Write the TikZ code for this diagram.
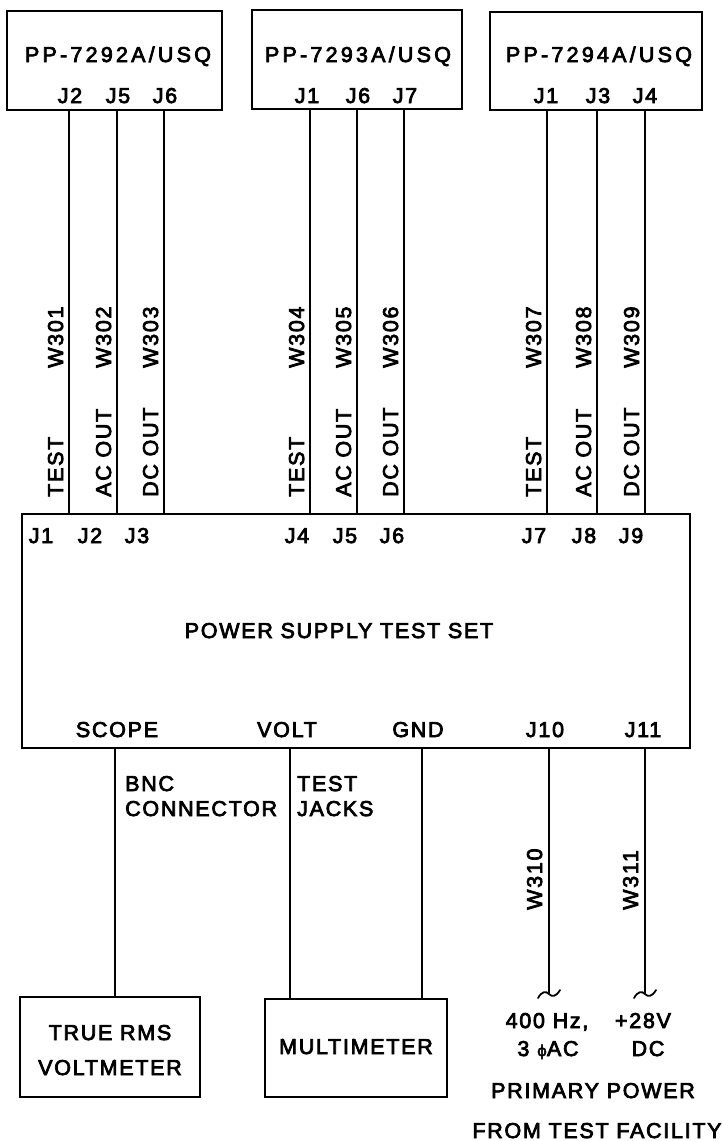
\documentclass[tikz,border=0pt]{standalone}
\usepackage{fontspec}
\newfontfamily\lblfont{Liberation Sans}[FakeBold=3.5, LetterSpace=8]
\newfontfamily\ppfont{Liberation Sans}[FakeBold=3.5, LetterSpace=15]
\newfontfamily\phifont{DejaVu Sans}[FakeBold=3]
\begin{document}
\begin{tikzpicture}[x=1pt,y=-1pt,
  box/.style={draw, line width=2.2pt, inner sep=0pt},
  wire/.style={line width=1.8pt},
  lab/.style={font=\fontsize{21.5}{25}\lblfont, inner sep=0pt, anchor=base},
  pplab/.style={font=\fontsize{21.5}{25}\ppfont, inner sep=0pt, anchor=base},
  llab/.style={lab, anchor=base west},
  vlab/.style={lab, rotate=90, anchor=base west}]
\useasboundingbox (0,0) rectangle (721,1141);

% upper units
\node[box, minimum width=215pt, minimum height=99pt] (u1) at (114.5,60.5) {};
\node[box, minimum width=210pt, minimum height=99pt] (u2) at (357,59.5) {};
\node[box, minimum width=212pt, minimum height=98pt] (u3) at (596,61) {};
\node[pplab] (u1t) at (118,62) {PP-7292A/USQ};
\node[pplab] (u2t) at (358,62) {PP-7293A/USQ};
\node[pplab] (u3t) at (599,62) {PP-7294A/USQ};

\node[lab] (u1j2) at (70,103) {J2};
\node[lab] (u1j5) at (118,103) {J5};
\node[lab] (u1j6) at (165,103) {J6};
\node[lab] (u2j1) at (307,103) {J1};
\node[lab] (u2j6) at (358,103) {J6};
\node[lab] (u2j7) at (405,103) {J7};
\node[lab] (u3j1) at (546,103) {J1};
\node[lab] (u3j3) at (598,103) {J3};
\node[lab] (u3j4) at (645,103) {J4};

% main test set
\node[box, minimum width=668pt, minimum height=234pt] (main) at (356,631) {};
\node[lab] (title) at (339,638) {POWER SUPPLY TEST SET};

\node[lab] (mj1) at (41,543) {J1};
\node[lab] (mj2) at (90,543) {J2};
\node[lab] (mj3) at (137,543) {J3};
\node[lab] (mj4) at (297,543) {J4};
\node[lab] (mj5) at (345,543) {J5};
\node[lab] (mj6) at (392,543) {J6};
\node[lab] (mj7) at (534,543) {J7};
\node[lab] (mj8) at (584,543) {J8};
\node[lab] (mj9) at (631,543) {J9};

\node[lab] (scope) at (117,737) {SCOPE};
\node[lab] (volt) at (287,737) {VOLT};
\node[lab] (gnd) at (418,737) {GND};
\node[lab] (j10) at (545,737) {J10};
\node[lab] (j11) at (643,737) {J11};

% pins on upper units
\coordinate (p1) at (69,110);
\coordinate (p2) at (117,110);
\coordinate (p3) at (164,110);
\coordinate (p4) at (310,109);
\coordinate (p5) at (357,109);
\coordinate (p6) at (404,109);
\coordinate (p7) at (547,110);
\coordinate (p8) at (597,110);
\coordinate (p9) at (645,110);
\foreach \p in {p1,p2,p3,p4,p5,p6,p7,p8,p9}
  \draw[wire] (\p) -- (\p |- main.north);

% cable labels
\node[vlab] (w301) at (63,368) {W301};
\node[vlab] (w302) at (111,368) {W302};
\node[vlab] (w303) at (158,368) {W303};
\node[vlab] (w304) at (304,368) {W304};
\node[vlab] (w305) at (351,368) {W305};
\node[vlab] (w306) at (398,368) {W306};
\node[vlab] (w307) at (541,368) {W307};
\node[vlab] (w308) at (591,368) {W308};
\node[vlab] (w309) at (639,368) {W309};

\node[vlab] (t1) at (63,497) {TEST};
\node[vlab] (a1) at (111,497) {AC OUT};
\node[vlab] (d1) at (158,497) {DC OUT};
\node[vlab] (t2) at (304,497) {TEST};
\node[vlab] (a2) at (351,497) {AC OUT};
\node[vlab] (d2) at (398,497) {DC OUT};
\node[vlab] (t3) at (541,497) {TEST};
\node[vlab] (a3) at (591,497) {AC OUT};
\node[vlab] (d3) at (639,497) {DC OUT};

% lower instruments
\node[box, minimum width=180pt, minimum height=100pt] (rms) at (110,1047) {};
\node[lab] (rms1) at (110,1040) {TRUE RMS};
\node[lab] (rms2) at (110,1075) {VOLTMETER};
\node[box, minimum width=182pt, minimum height=98pt] (mm) at (356,1048) {};
\node[lab] (mmt) at (356,1054) {MULTIMETER};

\coordinate (sc) at (115,748);
\coordinate (vo) at (290,748);
\coordinate (gn) at (422,748);
\draw[wire] (sc) -- (sc |- rms.north);
\draw[wire] (vo) -- (vo |- mm.north);
\draw[wire] (gn) -- (gn |- mm.north);

\node[llab] (bnc1) at (125,791) {BNC};
\node[llab] (bnc2) at (125,816) {CONNECTOR};
\node[llab] (tj1) at (297,791) {TEST};
\node[llab] (tj2) at (297,816) {JACKS};

% primary power
\coordinate (q10) at (549,748);
\coordinate (q11) at (645,748);
\coordinate (e10) at (549,994);
\coordinate (e11) at (645,994);
\draw[wire] (q10) -- (e10);
\draw[wire] (q11) -- (e11);
\foreach \e in {e10,e11}
  \draw[line width=1.8pt, line cap=round] ([shift={(-11,4)}]\e) .. controls ([shift={(-7,-3)}]\e) and ([shift={(-3,-3)}]\e) .. (\e)
     .. controls ([shift={(3,3)}]\e) and ([shift={(7,3)}]\e) .. ([shift={(11,-4)}]\e);
\node[vlab] (w310) at (542,910) {W310};
\node[vlab] (w311) at (638,910) {W311};

\node[lab] (hz) at (547,1028) {400 Hz,};
\node[lab] (ph) at (548,1056) {3 {\phifont\fontsize{15}{18}\selectfont ϕ}AC};
\node[lab] (v28) at (643,1028) {+28V};
\node[lab] (dc) at (648,1056) {DC};
\node[lab] (prim) at (593,1098) {PRIMARY POWER};
\node[lab] (fac) at (597,1138) {FROM TEST FACILITY};
\end{tikzpicture}
\end{document}
